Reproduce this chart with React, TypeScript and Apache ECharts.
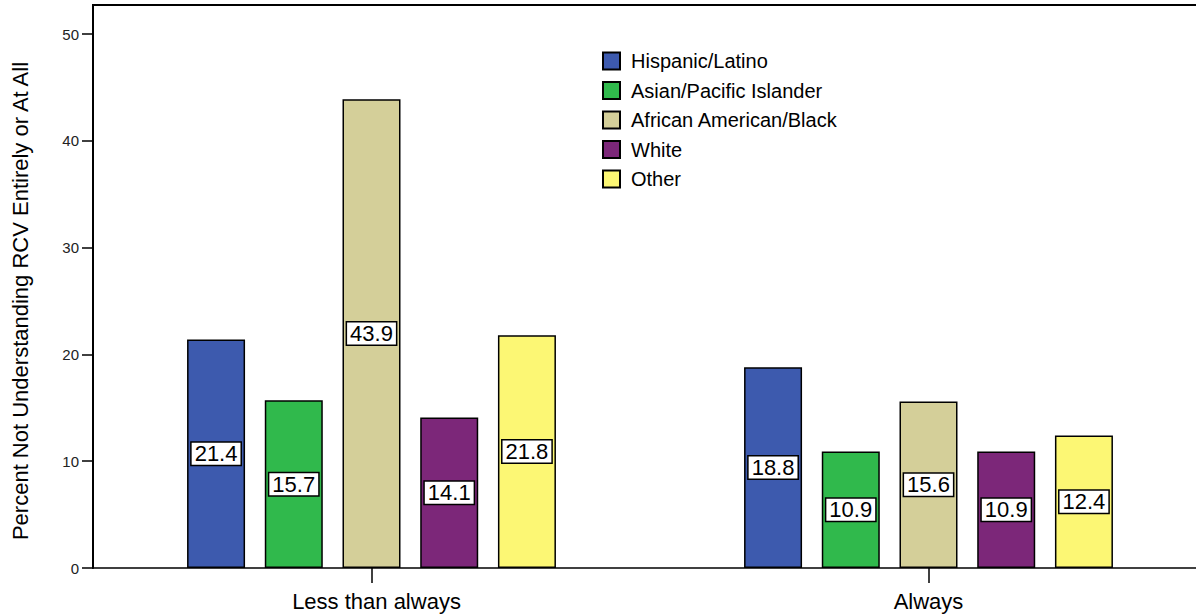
import React, { useEffect, useRef } from "react";
import * as echarts from "echarts";

const categories = ["Less than always", "Always"];
const groupNames = [
  "Hispanic/Latino",
  "Asian/Pacific Islander",
  "African American/Black",
  "White",
  "Other",
];
const hispanic = [21.4, 18.8];
const asian = [15.7, 10.9];
const black = [43.9, 15.6];
const white = [14.1, 10.9];
const other = [21.8, 12.4];
const seriesValues = [hispanic, asian, black, white, other];
const colors = ["#3d5aae", "#30b94c", "#d4cf99", "#7c2779", "#fcf774"];

const FONT = "'Liberation Sans', Arial, sans-serif";

export default function App() {
  const ref = useRef<HTMLDivElement>(null);
  useEffect(() => {
    if (!ref.current) return;
    const chart = echarts.init(ref.current, null, { renderer: "svg" });
    chart.setOption({
      animation: false,
      backgroundColor: "#ffffff",
      textStyle: { fontFamily: FONT },
      grid: {
        left: 93,
        top: 34,
        bottom: 48,
        right: 3,
        show: false,
      },
      graphic: [
        {
          type: "line",
          shape: { x1: 92, y1: 5, x2: 1210, y2: 5 },
          style: { stroke: "#000", lineWidth: 2 },
          silent: true,
        },
        {
          type: "line",
          shape: { x1: 93, y1: 5, x2: 93, y2: 35 },
          style: { stroke: "#000", lineWidth: 2 },
          silent: true,
        },
      ],
      legend: {
        orient: "vertical",
        left: 602,
        top: 51,
        padding: 0,
        itemWidth: 17,
        itemHeight: 17,
        itemGap: 9.5,
        icon: "rect",
        data: groupNames,
        textStyle: { fontSize: 20, color: "#000", fontFamily: FONT, padding: [0, 0, 0, 6] },
      },
      xAxis: {
        type: "category",
        data: categories.map((c, i) =>
          i === 0 ? { value: c, textStyle: { padding: [0, 0, 0, 10] } } : c
        ),
        axisLine: { lineStyle: { color: "#000", width: 1.5 } },
        axisTick: { show: true, alignWithLabel: true, length: 15, lineStyle: { color: "#000", width: 1.5 } },
        axisLabel: { fontSize: 22, color: "#000", margin: 22, fontFamily: FONT },
        splitLine: { show: false },
      },
      yAxis: {
        type: "value",
        min: 0,
        max: 50,
        interval: 10,
        name: "Percent Not Understanding RCV Entirely or At All",
        nameLocation: "middle",
        nameGap: 62,
        nameTextStyle: { fontSize: 22, color: "#000", fontFamily: FONT },
        axisLine: { show: true, lineStyle: { color: "#000", width: 2 } },
        axisTick: {
          show: true,
          inside: false,
          length: 11,
          lineStyle: { color: "#000", width: 1.5 },
        },
        axisLabel: {
          fontSize: 15,
          color: "#222",
          margin: 14,
          fontFamily: FONT,
        },
        splitLine: { show: false },
      },
      series: groupNames.map((name, i) => ({
        name,
        type: "bar",
        data: seriesValues[i],
        barWidth: 58,
        barGap: "34%",
        itemStyle: { color: colors[i], borderColor: "#000", borderWidth: 1.5 },
        label: {
          show: true,
          position: "inside",
          formatter: (p: any) => Number(p.value).toFixed(1),
          fontSize: 22,
          lineHeight: 22,
          color: "#000",
          fontFamily: FONT,
          backgroundColor: "#fff",
          borderColor: "#000",
          borderWidth: 1.5,
          padding: [0, 3, 0, 3],
        },
      })),
    });
    return () => chart.dispose();
  }, []);
  return (
    <div style={{ position: "absolute", left: 0, top: 0, width: 1196, height: 616, overflow: "hidden" }}>
      <div ref={ref} style={{ width: 1210, height: 616 }} />
    </div>
  );
}
